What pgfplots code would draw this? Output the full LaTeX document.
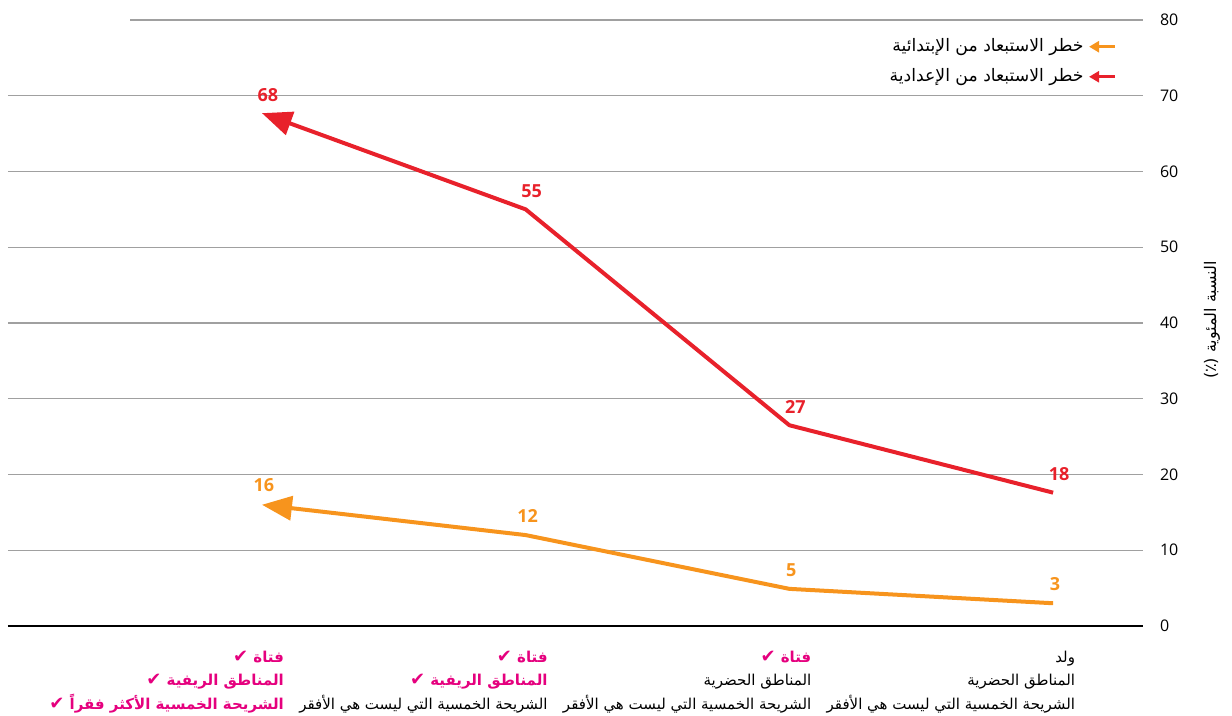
\documentclass[border=0pt]{standalone}
\usepackage{fontspec}
\usepackage{pgfplots}
\pgfplotsset{compat=1.18}
\usetikzlibrary{arrows.meta}
\setmainfont{Open Sans}
\newfontfamily\arabicfont[Script=Arabic]{DejaVu Sans}
\TeXXeTstate=1
\definecolor{cred}{HTML}{E8212B}
\definecolor{corange}{HTML}{F7941D}
\definecolor{cmag}{HTML}{E5007E}
\definecolor{cgrid}{HTML}{A0A0A0}
\newcommand{\AR}[1]{{\arabicfont\beginR #1\endR}}
\newcommand{\ARM}[1]{{\color{cmag}\arabicfont\bfseries\beginR #1\endR}}
\newcommand{\CK}{{\fontsize{9}{9}\selectfont ✔}}
\begin{document}
\begin{tikzpicture}
\begin{axis}[
  scale only axis, width=567.5pt, height=303pt,
  xmin=-0.963, xmax=3.341, ymin=0, ymax=80,
  axis line style={draw=none},
  tick style={draw=none},
  ytick={10,20,...,70},
  extra y ticks={0,80},
  extra y tick style={grid=none},
  ymajorgrids, grid style={cgrid, line width=0.6pt},
  yticklabel pos=right,
  yticklabel style={font=\fontsize{8}{9}\selectfont, anchor=west, xshift=5pt},
  /pgf/number format/assume math mode=true,
  xtick={0,1,2,3},
  xticklabels={
    {\ARM{فتاة \CK}\\ \ARM{المناطق الريفية \CK}\\ \ARM{الشريحة الخمسية الأكثر فقراً \CK}},
    {\ARM{فتاة \CK}\\ \ARM{المناطق الريفية \CK}\\ \AR{الشريحة الخمسية التي ليست هي الأفقر}},
    {\ARM{فتاة \CK}\\ \AR{المناطق الحضرية}\\ \AR{الشريحة الخمسية التي ليست هي الأفقر}},
    {\AR{ولد}\\ \AR{المناطق الحضرية}\\ \AR{الشريحة الخمسية التي ليست هي الأفقر}}
  },
  xticklabel style={font=\fontsize{7.5}{11.75}\selectfont, align=right, anchor=north east, xshift=14.5pt, yshift=-9pt},
  ylabel={\AR{النسبة المئوية (٪)}},
  ylabel style={at={(rel axis cs:1.0608,0.505)}, anchor=center, font=\fontsize{8}{9}\selectfont},
  legend style={at={(rel axis cs:0.982,0.983)}, anchor=north east, draw=none, fill=none,
    font=\fontsize{8.6}{10}\selectfont, row sep=3pt},
  legend cell align=right,
  legend plot pos=right,
  clip=false,
]
\addplot[corange, line width=2pt, line join=round, -{Triangle[length=15pt,width=12pt]},
  nodes near coords, point meta=explicit symbolic,
  nodes near coords style={font=\bfseries\fontsize{9}{10}\selectfont, text=corange, anchor=south, yshift=2pt, xshift=1pt},
  legend image code/.code={\draw[corange, line width=1.5pt, -{Triangle[length=5pt,width=5.5pt]}] (0.45cm,0cm) -- (0cm,0cm);}]
  coordinates {(3,3.0)[3] (2,4.9)[5] (1,12)[12] (0,16)[16]};
\addlegendentry{\AR{خطر الاستبعاد من الإبتدائية}}
\addplot[cred, line width=2pt, line join=round, -{Triangle[length=15pt,width=12pt]},
  nodes near coords, point meta=explicit symbolic,
  nodes near coords style={font=\bfseries\fontsize{9}{10}\selectfont, text=cred, anchor=south, yshift=1.5pt, xshift=3pt},
  legend image code/.code={\draw[cred, line width=1.5pt, -{Triangle[length=5pt,width=5.5pt]}] (0.45cm,0cm) -- (0cm,0cm);}]
  coordinates {(3,17.6)[18] (2,26.5)[27] (1,55)[55] (0,67.7)[68]};
\addlegendentry{\AR{خطر الاستبعاد من الإعدادية}}
\draw[black, line width=0.8pt] (rel axis cs:0,0) -- (rel axis cs:1,0);
\draw[cgrid, line width=0.6pt] (axis cs:-0.5,80) -- (rel axis cs:1,1);
\coordinate (SW) at (rel axis cs:0,0);
\coordinate (NE) at (rel axis cs:1,1);
\end{axis}
\pgfresetboundingbox
\path[use as bounding box] ([shift={(-4pt,-45pt)}]SW) rectangle ([shift={(44.5pt,10pt)}]NE);
\end{tikzpicture}
\end{document}
